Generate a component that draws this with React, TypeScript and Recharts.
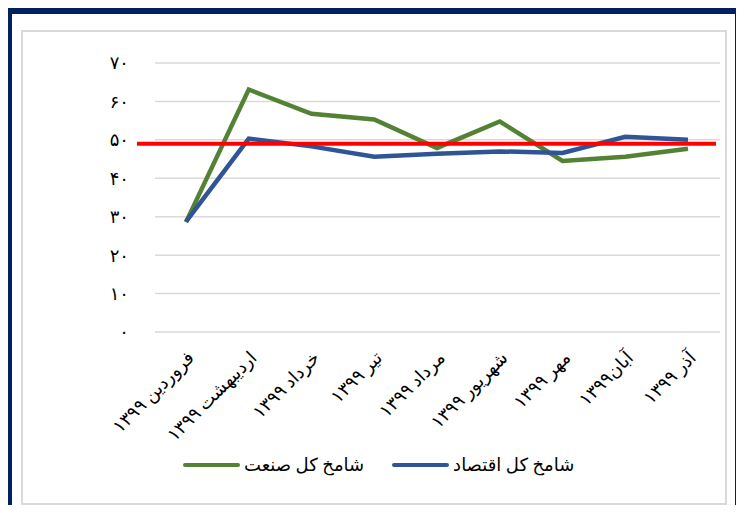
import { CartesianGrid, Line, LineChart, ReferenceLine, XAxis, YAxis } from "recharts";

const months = [
  "فروردین ۱۳۹۹",
  "اردیبهشت ۱۳۹۹",
  "خرداد ۱۳۹۹",
  "تیر ۱۳۹۹",
  "مرداد ۱۳۹۹",
  "شهریور ۱۳۹۹",
  "مهر ۱۳۹۹",
  "آبان۱۳۹۹",
  "آذر ۱۳۹۹",
];
const industry = [28.6, 63.1, 56.8, 55.3, 47.9, 54.8, 44.5, 45.6, 47.7];
const economy = [28.7, 50.3, 48.3, 45.6, 46.4, 47.0, 46.6, 50.8, 50.0];
const threshold = 49;
const yTicks = [0, 10, 20, 30, 40, 50, 60, 70];

const industryName = "شامخ کل صنعت";
const economyName = "شامخ کل اقتصاد";

const data = months.map((m, i) => ({
  name: m,
  industry: industry[i],
  economy: economy[i],
}));

const faDigits = (v: number | string) =>
  String(v).replace(/\d/g, (d) => "۰۱۲۳۴۵۶۷۸۹"[Number(d)]);

const FONT = "'Times New Roman', 'Liberation Serif', 'DejaVu Sans', serif";

const MonthTick = ({ x, y, payload }: any) => (
  <text
    x={x + 9}
    y={y + 19}
    transform={`rotate(-45, ${x + 9}, ${y + 19})`}
    textAnchor="end"
    fontSize={18}
    fontFamily={FONT}
    fill="#000"
  >
    {payload.value}
  </text>
);

const RedLine = (props: any) => (
  <line
    x1={props.x1 - 18}
    y1={props.y1}
    x2={props.x2 - 4}
    y2={props.y2}
    stroke="#FF0000"
    strokeWidth={4}
  />
);

const LegendItem = ({ color, label }: any) => (
  <div style={{ display: "flex", alignItems: "center" }}>
    <span
      style={{
        display: "inline-block",
        width: 57,
        height: 4,
        borderRadius: 2,
        background: color,
        marginRight: 4,
      }}
    />
    <span style={{ fontSize: 18, fontFamily: FONT, color: "#000" }}>{label}</span>
  </div>
);

export default function App() {
  return (
    <div style={{ position: "relative", width: 744, height: 513, margin: -8, overflow: "hidden", background: "#fff" }}>
      <div
        style={{
          position: "absolute",
          left: 5,
          top: 7,
          width: 723,
          height: 520,
          borderLeft: "7px solid #002060",
          borderTop: "7px solid #002060",
          borderRight: "7px solid #002060",
        }}
      />
      <div
        style={{
          position: "absolute",
          left: 21,
          top: 30,
          width: 702,
          height: 471,
          border: "2px solid #D9D9D9",
        }}
      />
      <div style={{ position: "absolute", left: 0, top: 0 }}>
        <LineChart
          width={744}
          height={513}
          data={data}
          margin={{ top: 63, right: 24, bottom: 61, left: 115 }}
        >
          <CartesianGrid vertical={false} stroke="#D9D9D9" strokeWidth={1.5} />
          <XAxis
            dataKey="name"
            interval={0}
            height={120}
            axisLine={false}
            tickLine={false}
            padding={{ left: 31, right: 32 }}
            tick={<MonthTick />}
          />
          <YAxis
            width={40}
            domain={[0, 70]}
            ticks={yTicks}
            axisLine={false}
            tickLine={false}
            tickSize={0}
            tickMargin={26}
            tickFormatter={faDigits}
            tick={{ fill: "#000", fontSize: 18, fontFamily: FONT }}
          />
          <Line
            type="linear"
            dataKey="industry"
            stroke="#548235"
            strokeWidth={4.5}
            dot={false}
            isAnimationActive={false}
          />
          <Line
            type="linear"
            dataKey="economy"
            stroke="#2F5597"
            strokeWidth={4.5}
            dot={false}
            isAnimationActive={false}
          />
          <ReferenceLine y={threshold} shape={<RedLine />} ifOverflow="visible" />
        </LineChart>
      </div>
      <div
        style={{
          position: "absolute",
          left: 183,
          top: 454,
          display: "flex",
          alignItems: "center",
          gap: 28,
        }}
      >
        <LegendItem color="#548235" label={industryName} />
        <LegendItem color="#2F5597" label={economyName} />
      </div>
    </div>
  );
}
